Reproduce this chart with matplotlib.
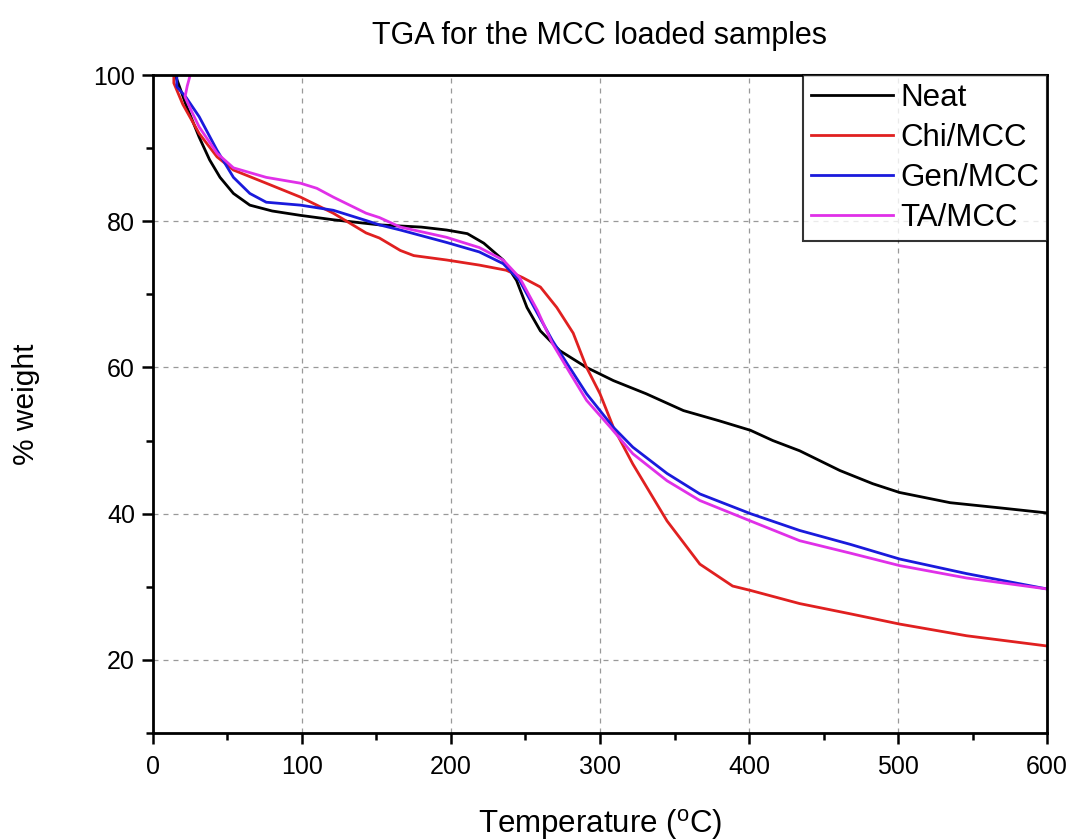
import matplotlib
matplotlib.use("Agg")
import matplotlib.pyplot as plt
from matplotlib.ticker import MultipleLocator

plt.rcParams['font.family'] = ['Liberation Sans', 'DejaVu Sans']
plt.rcParams['mathtext.fontset'] = 'custom'
plt.rcParams['mathtext.rm'] = 'Liberation Sans'

# Neat
t_neat = [15, 22, 31, 38, 45, 54, 65, 80, 99, 121, 152, 180, 197, 211, 222, 235, 244, 251, 260,
          273, 291, 309, 331, 356, 380, 401, 416, 434, 461, 483, 501, 535, 568, 600]
w_neat = [100, 96, 91.5, 88.4, 86, 83.8, 82.2, 81.4, 80.8, 80.2, 79.5, 79.2, 78.8, 78.3, 77, 74.7,
          71.9, 68.2, 65, 62.3, 60, 58.2, 56.4, 54.1, 52.7, 51.4, 50, 48.6, 45.9, 44.1, 42.9, 41.5,
          40.8, 40.1]

# Chi/MCC
t_chi = [14, 14, 20, 31, 43, 54, 76, 99, 121, 143, 152, 166, 175, 197, 219, 237, 248, 260, 271,
         282, 291, 300, 309, 322, 345, 367, 389, 401, 434, 468, 501, 546, 600]
w_chi = [100, 98.9, 96, 92, 88.8, 87, 85.2, 83.3, 81.1, 78.4, 77.7, 76, 75.3, 74.7, 74, 73.3,
         72.3, 71, 68.2, 64.7, 60, 56.4, 51.8, 46.8, 39, 33.1, 30.1, 29.5, 27.7, 26.3, 24.9, 23.3,
         21.9]

# Gen/MCC
t_gen = [16, 16, 22, 31, 43, 54, 65, 76, 99, 121, 143, 152, 166, 197, 219, 235, 246, 258, 268,
         278, 291, 300, 309, 322, 345, 367, 401, 434, 468, 501, 546, 600]
w_gen = [100, 98.4, 97, 94.3, 89.7, 86, 83.8, 82.6, 82.2, 81.5, 80.1, 79.5, 78.8, 77.1, 75.8,
         74.2, 71.9, 67.4, 63.7, 60.5, 56.4, 54.1, 51.8, 49.1, 45.5, 42.7, 40, 37.7, 35.8, 33.8,
         31.8, 29.7]

# TA/MCC
t_ta = [25, 23, 21.5, 26, 31, 43, 54, 76, 99, 110, 121, 143, 152, 166, 197, 219, 235, 246, 258,
        268, 280, 291, 307, 322, 345, 367, 401, 434, 468, 501, 546, 600]
w_ta = [100, 98.5, 97, 95, 92.9, 89.3, 87.3, 86, 85.2, 84.5, 83.3, 81.1, 80.5, 79.2, 77.8, 76.4,
        74.7, 72.3, 67.8, 63.3, 59.2, 55.5, 51.8, 48.2, 44.5, 41.8, 39, 36.3, 34.6, 32.9, 31.2,
        29.7]

fig = plt.figure(figsize=(10.72, 8.4), dpi=100)
ax = fig.add_axes([0.1427, 0.1274, 0.834, 0.7833])

ax.plot(t_neat, w_neat, color='black', lw=2.0, label='Neat')
ax.plot(t_chi, w_chi, color='#e02020', lw=2.0, label='Chi/MCC')
ax.plot(t_gen, w_gen, color='#1a1adc', lw=2.0, label='Gen/MCC')
ax.plot(t_ta, w_ta, color='#e030e8', lw=2.0, label='TA/MCC')

ax.set_xlim(0, 600)
ax.set_ylim(10, 100)
ax.xaxis.set_major_locator(MultipleLocator(100))
ax.xaxis.set_minor_locator(MultipleLocator(50))
ax.yaxis.set_minor_locator(MultipleLocator(10))
ax.set_yticks([20, 40, 60, 80, 100])
ax.tick_params(which='major', direction='out', length=8, width=1.8, labelsize=18, pad=5)
ax.tick_params(axis='x', which='major', pad=8)
ax.tick_params(which='minor', direction='out', length=5, width=1.8)
for s in ax.spines.values():
    s.set_linewidth(2.0)

ax.grid(True, which='major', linestyle=(0, (4, 4)), color='#999999', lw=0.9)

ax.set_title('TGA for the MCC loaded samples', fontsize=22, pad=22)
ax.set_xlabel('Temperature ($^{\\mathrm{o}}$C)', fontsize=22.5, labelpad=20)
ax.set_ylabel('% weight', fontsize=21.5, labelpad=38)

leg = ax.legend(loc='upper right', bbox_to_anchor=(1.0, 1.0), fontsize=22.5, frameon=True,
                fancybox=False, borderpad=0.25, labelspacing=0.32, handlelength=2.6,
                handletextpad=0.25, borderaxespad=0)
leg.get_frame().set_edgecolor('black')
leg.get_frame().set_linewidth(1.5)

fig.savefig('out.png', dpi=100)
